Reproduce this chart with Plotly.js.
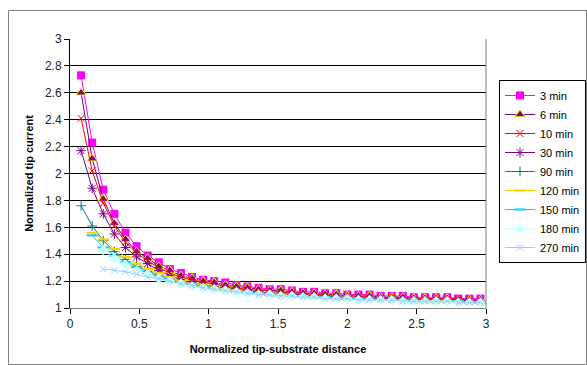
<!DOCTYPE html>
<html>
<head>
<meta charset="utf-8">
<script src="https://cdn.plot.ly/plotly-3.0.1.min.js"></script>
<style>
html,body{margin:0;padding:0;background:#fff;}
#chart{width:587px;height:365px;}
</style>
</head>
<body>
<div id="chart"></div>
<script>
// Normalized tip-substrate distance
const distance = [0.08,0.16,0.24,0.32,0.40,0.48,0.56,0.64,0.72,0.80,0.88,0.96,1.04,1.12,1.20,1.28,1.36,1.44,1.52,1.60,1.68,1.76,1.84,1.92,2.00,2.08,2.16,2.24,2.32,2.40,2.48,2.56,2.64,2.72,2.80,2.88,2.96];

const seriesNames = ["3 min","6 min","10 min","30 min","90 min","120 min","150 min","180 min","270 min"];

const min3   = [2.73,2.23,1.88,1.70,1.56,1.46,1.39,1.34,1.29,1.26,1.23,1.21,1.20,1.19,1.17,1.16,1.15,1.14,1.14,1.13,1.12,1.12,1.11,1.11,1.10,1.10,1.10,1.09,1.09,1.09,1.08,1.08,1.08,1.08,1.07,1.07,1.07];
const min6   = [2.60,2.11,1.81,1.63,1.51,1.42,1.37,1.31,1.28,1.24,1.22,1.20,1.19,1.17,1.16,1.15,1.14,1.13,1.13,1.12,1.11,1.11,1.10,1.10,1.09,1.09,1.09,1.08,1.08,1.08,1.07,1.07,1.07,1.07,1.06,1.06,1.06];
const min10  = [2.41,2.02,1.78,1.61,1.49,1.41,1.35,1.30,1.26,1.23,1.21,1.19,1.18,1.16,1.15,1.14,1.13,1.13,1.12,1.11,1.11,1.10,1.10,1.09,1.09,1.09,1.08,1.08,1.08,1.08,1.07,1.07,1.07,1.07,1.07,1.06,1.06];
const min30  = [2.17,1.89,1.70,1.55,1.45,1.38,1.33,1.28,1.24,1.21,1.19,1.17,1.16,1.15,1.14,1.13,1.12,1.11,1.11,1.10,1.10,1.09,1.09,1.08,1.08,1.08,1.07,1.07,1.07,1.07,1.06,1.06,1.06,1.06,1.06,1.05,1.05];
const min90  = [1.76,1.61,1.50,1.42,1.36,1.31,1.27,1.24,1.21,1.19,1.17,1.16,1.15,1.14,1.13,1.12,1.11,1.10,1.10,1.09,1.09,1.08,1.08,1.08,1.07,1.07,1.07,1.06,1.06,1.06,1.06,1.06,1.05,1.05,1.05,1.05,1.05];
const min120 = [null,1.56,1.51,1.44,1.38,1.33,1.29,1.26,1.23,1.20,1.18,1.17,1.15,1.14,1.13,1.12,1.11,1.10,1.10,1.09,1.09,1.08,1.08,1.07,1.07,1.07,1.06,1.06,1.06,1.06,1.05,1.05,1.05,1.05,1.05,1.04,1.04];
const min150 = [null,1.54,1.45,1.39,1.34,1.30,1.26,1.23,1.21,1.19,1.17,1.16,1.14,1.13,1.12,1.11,1.11,1.10,1.09,1.09,1.08,1.08,1.08,1.07,1.07,1.07,1.06,1.06,1.06,1.06,1.05,1.05,1.05,1.05,1.05,1.04,1.04];
const min180 = [null,null,1.43,1.37,1.32,1.28,1.25,1.22,1.20,1.18,1.16,1.15,1.14,1.13,1.12,1.11,1.10,1.10,1.09,1.09,1.08,1.08,1.07,1.07,1.07,1.06,1.06,1.06,1.06,1.05,1.05,1.05,1.05,1.05,1.04,1.04,1.04];
const min270 = [null,null,1.29,1.28,1.27,1.25,1.23,1.22,1.20,1.18,1.17,1.15,1.14,1.13,1.12,1.11,1.10,1.10,1.09,1.09,1.08,1.08,1.07,1.07,1.07,1.06,1.06,1.06,1.06,1.05,1.05,1.05,1.05,1.05,1.04,1.04,1.04];

const allY = [min3,min6,min10,min30,min90,min120,min150,min180,min270];

const styles = [
  {color:"#FF00FF", symbol:"square", size:8, mline:"#FF00FF", mw:0},
  {color:"#800080", symbol:"triangle-up", size:9, mline:"#FFFF00", mw:1},
  {color:"#FF0000", symbol:"x-thin-open", size:7, mline:"#FF0000", mw:1},
  {color:"#800080", symbol:"asterisk-open", size:8, mline:"#800080", mw:1},
  {color:"#008080", symbol:"cross-thin-open", size:7, mline:"#008080", mw:1},
  {color:"#FFCC00", symbol:"line-ew-open", size:8, mline:"#FFCC00", mw:2},
  {color:"#00CCFF", symbol:"line-ew-open", size:8, mline:"#00CCFF", mw:2},
  {color:"#CCFFFF", symbol:"diamond", size:8, mline:"#CCFFFF", mw:0},
  {color:"#99CCFF", symbol:"x-thin-open", size:6, mline:"#99CCFF", mw:1}
];

const traces = seriesNames.map((n,i)=>({
  type:"scatter", mode:"lines+markers", name:n,
  x:distance, y:allY[i],
  line:{color:styles[i].color, width:1},
  marker:{symbol:styles[i].symbol, size:styles[i].size, color:styles[i].color,
          line:{color:styles[i].mline, width:styles[i].mw}},
  connectgaps:false
}));

const L=70, R=101, T=39, B=57;
const pw = 587-L-R, ph = 365-T-B;
function px2paperX(p){return (p-L)/pw;}
function px2paperY(p){return (365-B-p)/ph;}

const layout = {
  width:587, height:365,
  margin:{l:L, r:R, t:T, b:B, autoexpand:false},
  paper_bgcolor:"#fff", plot_bgcolor:"#fff",
  font:{family:"Arial, 'Liberation Sans', sans-serif", size:11, color:"#000"},
  showlegend:true,
  xaxis:{
    range:[0,3], dtick:0.5, tick0:0, showgrid:false, zeroline:false,
    showline:true, linecolor:"#808080", linewidth:1, mirror:false,
    ticks:"outside", ticklen:5, tickcolor:"#000",
    tickfont:{size:12, color:"#222"},
    title:{text:"<b>Normalized tip-substrate distance</b>", font:{size:11}, standoff:14},
    automargin:false
  },
  yaxis:{
    range:[1,3], dtick:0.2, tick0:1, showgrid:true, gridcolor:"#000", gridwidth:1, zeroline:false,
    showline:true, linecolor:"#000", linewidth:1,
    ticks:"outside", ticklen:5, tickcolor:"#000",
    tickfont:{size:12, color:"#222"},
    title:{text:"<b>Normalized tip current</b>", font:{size:11}, standoff:9},
    automargin:false
  },
  legend:{
    x:px2paperX(499), y:px2paperY(80), xanchor:"left", yanchor:"top",
    bordercolor:"#000", borderwidth:1, bgcolor:"#fff",
    font:{size:11}, itemwidth:30, tracegroupgap:0
  },
  shapes:[
    {type:"line", xref:"paper", yref:"paper", x0:1, x1:1, y0:0, y1:1, line:{color:"#808080", width:1}},
    {type:"rect", xref:"paper", yref:"paper", x0:px2paperX(8.5), x1:px2paperX(586.5), y0:px2paperY(364.5), y1:px2paperY(10.5), line:{color:"#808080", width:1}, fillcolor:"rgba(0,0,0,0)", layer:"below"}
  ]
};

Plotly.newPlot("chart", traces, layout, {displayModeBar:false, staticPlot:true});
</script>
</body>
</html>
